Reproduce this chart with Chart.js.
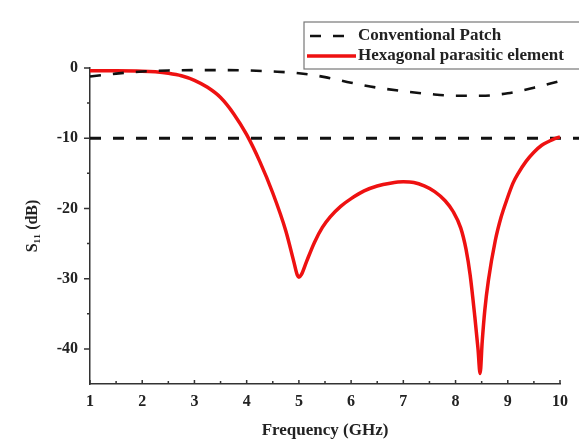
<!DOCTYPE html>
<html>
<head>
<meta charset="utf-8">
<script src="https://cdn.jsdelivr.net/npm/chart.js@4.4.0/dist/chart.umd.min.js"></script>
<style>
  html, body { margin: 0; padding: 0; background: #fff; }
</style>
</head>
<body>
<canvas id="myChart" width="579" height="439"></canvas>
<script>
// S11 curves
const convFreq = [1, 1.5, 2, 2.5, 3, 3.5, 4, 4.5, 5, 5.5, 6, 6.5, 7, 7.5, 8, 8.5, 9, 9.5, 10];
const convS11  = [-1.2, -0.8, -0.5, -0.35, -0.3, -0.3, -0.35, -0.5, -0.75, -1.3, -2.1, -2.8, -3.3, -3.7, -3.95, -3.95, -3.6, -2.8, -1.85];

const hexFreq = [1, 1.5, 2, 2.25, 2.5, 2.75, 3, 3.25, 3.5, 3.75, 4, 4.25, 4.5, 4.75, 4.9, 4.97, 5, 5.05, 5.15, 5.3, 5.45, 5.6, 5.8, 6,
                 6.25, 6.5, 6.75, 7, 7.2, 7.4, 7.6, 7.8, 7.95, 8.1, 8.2, 8.28, 8.37, 8.43, 8.47, 8.51, 8.56, 8.63, 8.76, 8.87, 8.98,
                 9.1, 9.2, 9.35, 9.5, 9.65, 9.8, 9.9, 10];
const hexS11  = [-0.4, -0.4, -0.45, -0.55, -0.75, -1.1, -1.75, -2.75, -4.2, -6.5, -9.5, -13.3, -17.8, -23.2, -27.5, -29.5, -29.8, -29.4, -27.5, -24.8, -22.7, -21.2, -19.7, -18.6,
                 -17.5, -16.8, -16.4, -16.2, -16.3, -16.8, -17.6, -18.9, -20.4, -22.8, -25.8, -29.5, -35.5, -40, -43.5, -39, -34.5, -30.2, -24.6, -21.3, -18.8,
                 -16.4, -15.0, -13.3, -12.0, -11.0, -10.4, -10.05, -9.8];

// -10 dB reference line
const refFreq = [1, 10.4];
const refS11  = [-10, -10];

const xTicks = [1, 2, 3, 4, 5, 6, 7, 8, 9, 10];
const xMinor = [1.5, 2.5, 3.5, 4.5, 5.5, 6.5, 7.5, 8.5, 9.5];
const yTicks = [0, -10, -20, -30, -40];
const yMinor = [-5, -15, -25, -35];

const serif = '"Liberation Serif", "Times New Roman", serif';

function pts(xs, ys) {
  return xs.map((v, i) => ({ x: v, y: ys[i] }));
}

// small tick marks, x ones point up, y ones point left
const tickMarks = {
  id: 'tickMarks',
  afterDraw(chart) {
    const { ctx, chartArea, scales: { x, y } } = chart;
    ctx.save();
    ctx.strokeStyle = '#333';
    ctx.lineWidth = 1.5;
    ctx.beginPath();
    xTicks.forEach(v => {
      const px = x.getPixelForValue(v);
      ctx.moveTo(px, chartArea.bottom);
      ctx.lineTo(px, chartArea.bottom - 4);
    });
    xMinor.forEach(v => {
      const px = x.getPixelForValue(v);
      ctx.moveTo(px, chartArea.bottom);
      ctx.lineTo(px, chartArea.bottom - 3);
    });
    yTicks.forEach(v => {
      const py = y.getPixelForValue(v);
      ctx.moveTo(chartArea.left, py);
      ctx.lineTo(chartArea.left - 6, py);
    });
    yMinor.forEach(v => {
      const py = y.getPixelForValue(v);
      ctx.moveTo(chartArea.left, py);
      ctx.lineTo(chartArea.left - 3, py);
    });
    ctx.stroke();
    ctx.restore();
  }
};

// boxed legend up top right
const boxLegend = {
  id: 'boxLegend',
  afterDraw(chart) {
    const ctx = chart.ctx;
    const items = chart.data.datasets.filter(d => !d.hideInLegend);
    const left = 304, top = 22, bottom = 69;
    ctx.save();
    ctx.fillStyle = '#fff';
    ctx.fillRect(left, top, 300, bottom - top);
    ctx.strokeStyle = '#777';
    ctx.lineWidth = 1.2;
    ctx.strokeRect(left, top, 300, bottom - top);
    ctx.font = 'bold 17px ' + serif;
    ctx.textBaseline = 'middle';
    ctx.fillStyle = '#222';
    items.forEach((d, i) => {
      const yy = 36 + i * 20;
      ctx.beginPath();
      ctx.strokeStyle = d.borderColor;
      ctx.lineWidth = d.borderWidth;
      ctx.setLineDash(d.borderDash || []);
      if (d.borderDash) {
        ctx.moveTo(310, yy);
        ctx.lineTo(347, yy);
      } else {
        ctx.moveTo(307, yy);
        ctx.lineTo(356, yy);
      }
      ctx.stroke();
      ctx.setLineDash([]);
      ctx.fillText(d.label, 358, yy);
    });
    ctx.restore();
  }
};

new Chart(document.getElementById('myChart'), {
  type: 'line',
  data: {
    datasets: [
      {
        label: 'Conventional Patch',
        data: pts(convFreq, convS11),
        borderColor: '#111',
        borderWidth: 2.6,
        borderDash: [11, 12],
        pointRadius: 0,
        cubicInterpolationMode: 'monotone',
        clip: false,
        fill: false
      },
      {
        label: 'Hexagonal parasitic element',
        data: pts(hexFreq, hexS11),
        borderColor: '#ee1111',
        borderWidth: 3.5,
        pointRadius: 0,
        cubicInterpolationMode: 'monotone',
        clip: false,
        fill: false
      },
      {
        label: '-10 dB',
        hideInLegend: true,
        data: pts(refFreq, refS11),
        borderColor: '#111',
        borderWidth: 3,
        borderDash: [11, 12],
        pointRadius: 0,
        clip: false,
        fill: false
      }
    ]
  },
  options: {
    responsive: false,
    animation: false,
    devicePixelRatio: 1,
    layout: { padding: { top: 68, right: 19, left: 0, bottom: 0 } },
    plugins: { legend: { display: false }, tooltip: { enabled: false } },
    scales: {
      x: {
        type: 'linear',
        min: 1,
        max: 10,
        afterBuildTicks: s => { s.ticks = xTicks.map(v => ({ value: v })); },
        afterFit: s => { s.height = 55; },
        grid: { display: false, drawTicks: false },
        border: { display: true, color: '#333', width: 1.5 },
        ticks: { color: '#222', padding: 8, font: { family: serif, size: 16, weight: 'bold' } },
        title: {
          display: true,
          text: 'Frequency (GHz)',
          color: '#222',
          padding: { top: 0, bottom: -1.5 },
          font: { family: serif, size: 17, weight: 'bold' }
        }
      },
      y: {
        min: -45,
        max: 0,
        afterBuildTicks: s => { s.ticks = yTicks.map(v => ({ value: v })); },
        afterFit: s => { s.width = 90; },
        grid: { display: false, drawTicks: false },
        border: { display: true, color: '#333', width: 1.5 },
        ticks: { color: '#222', padding: 12, font: { family: serif, size: 16, weight: 'bold' } },
        title: {
          display: true,
          text: 'S₁₁ (dB)',
          color: '#222',
          padding: { top: 23, bottom: 0 },
          font: { family: serif, size: 16, weight: 'bold' }
        }
      }
    }
  },
  plugins: [tickMarks, boxLegend]
});
</script>
</body>
</html>
